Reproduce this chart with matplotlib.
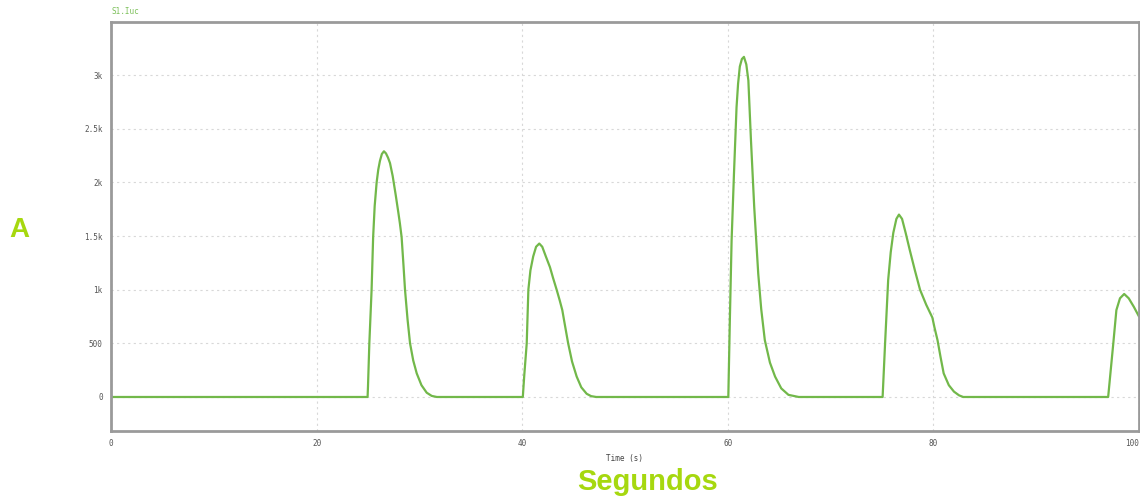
import matplotlib
matplotlib.use("Agg")
import matplotlib.pyplot as plt
from matplotlib.ticker import FixedLocator

# S1.Iuc current trace (time in s, current in A)
time_s = [
    0.0,
    24.96, 25.0, 25.13, 25.35, 25.5, 25.65, 25.84, 26.0, 26.16, 26.35, 26.55,
    26.75, 26.95, 27.14, 27.4, 27.7, 27.95, 28.1, 28.27, 28.45, 28.6, 28.85,
    29.09, 29.4, 29.74, 30.2, 30.71, 31.2, 31.7,
    40.06, 40.2, 40.44, 40.6, 40.8, 41.07, 41.35, 41.66, 41.95, 42.3, 42.7,
    43.0, 43.35, 43.65, 43.9, 44.1, 44.47, 44.85, 45.3, 45.75, 46.27, 46.7,
    47.2,
    60.05, 60.2, 60.37, 60.6, 60.85, 61.0, 61.17, 61.37, 61.57, 61.8, 62.0,
    62.25, 62.57, 62.96, 63.25, 63.6, 64.1, 64.6, 65.2, 65.9, 66.9,
    75.06, 75.3, 75.6, 75.85, 76.1, 76.4, 76.65, 76.95, 77.3, 77.7, 78.2,
    78.7, 79.3, 79.9, 80.1, 80.4, 80.7, 81.0, 81.5, 82.0, 82.5, 82.9,
    97.0, 97.2, 97.5, 97.8, 98.15, 98.56, 99.0, 99.5, 100.0,
]
current_a = [
    0,
    0, 100, 500, 1000, 1490, 1780, 2000, 2120, 2200, 2265, 2290,
    2270, 2230, 2180, 2060, 1880, 1720, 1620, 1490, 1230, 1000, 720,
    500, 340, 220, 110, 40, 10, 0,
    0, 200, 500, 1000, 1180, 1310, 1400, 1430, 1400, 1310, 1210,
    1110, 1000, 900, 810, 700, 500, 330, 190, 90, 30, 8,
    0,
    0, 720, 1460, 2080, 2700, 2920, 3080, 3150, 3170, 3100, 2950,
    2400, 1770, 1150, 820, 530, 320, 190, 80, 20, 0,
    0, 500, 1090, 1350, 1530, 1660, 1700, 1660, 1530, 1370, 1180,
    1000, 860, 740, 650, 530, 370, 220, 110, 50, 15, 0,
    0, 200, 500, 810, 920, 960, 920, 840, 750,
]

x_ticks = [0, 20, 40, 60, 80, 100]
x_tick_labels = ["0", "20", "40", "60", "80", "100"]
y_ticks = [0, 500, 1000, 1500, 2000, 2500, 3000]
y_tick_labels = ["0", "500", "1k", "1.5k", "2k", "2.5k", "3k"]

fig = plt.figure(figsize=(11.4, 4.98), dpi=100)
ax = fig.add_axes([111 / 1140, (498 - 431) / 498, (1139 - 111) / 1140, (431 - 22) / 498])

ax.plot(time_s, current_a, color="#72b84a", lw=1.6,
        solid_joinstyle="round", solid_capstyle="round")

ax.set_xlim(0, 100)
ax.set_ylim(-317, 3495)
ax.xaxis.set_major_locator(FixedLocator(x_ticks))
ax.set_xticklabels(x_tick_labels)
ax.yaxis.set_major_locator(FixedLocator(y_ticks))
ax.set_yticklabels(y_tick_labels)

for lab in ax.get_xticklabels() + ax.get_yticklabels():
    lab.set_fontfamily("DejaVu Sans Mono")
    lab.set_fontsize(5.5)
    lab.set_color("#555555")
# keep the last x label inside the figure edge
ax.get_xticklabels()[-1].set_horizontalalignment("right")
ax.tick_params(axis="both", length=0, pad=6)

ax.grid(True, color="#d8d8d8", linestyle=(0, (2, 3)), linewidth=0.8)
ax.set_axisbelow(True)
for side in ["left", "bottom", "top", "right"]:
    ax.spines[side].set_color("#9a9a9a")
    ax.spines[side].set_linewidth(2)

ax.set_xlabel("Time (s)", fontfamily="DejaVu Sans Mono", fontsize=5.5,
              color="#444444", labelpad=4)

fig.text(112 / 1140, 1 - 12 / 498, "S1.Iuc", fontfamily="DejaVu Sans Mono",
         fontsize=5.5, color="#7cc05a", ha="left", va="center")
fig.text(648 / 1140, 1 - 482 / 498, "Segundos", fontfamily="Liberation Sans",
         fontsize=21, fontweight="bold", color="#a6d80f", ha="center", va="center")
fig.text(19 / 1140, 1 - 230 / 498, "A", fontfamily="Liberation Sans",
         fontsize=20, fontweight="bold", color="#a6d80f", ha="center", va="center")

fig.savefig("out.png", dpi=100, facecolor="white")
